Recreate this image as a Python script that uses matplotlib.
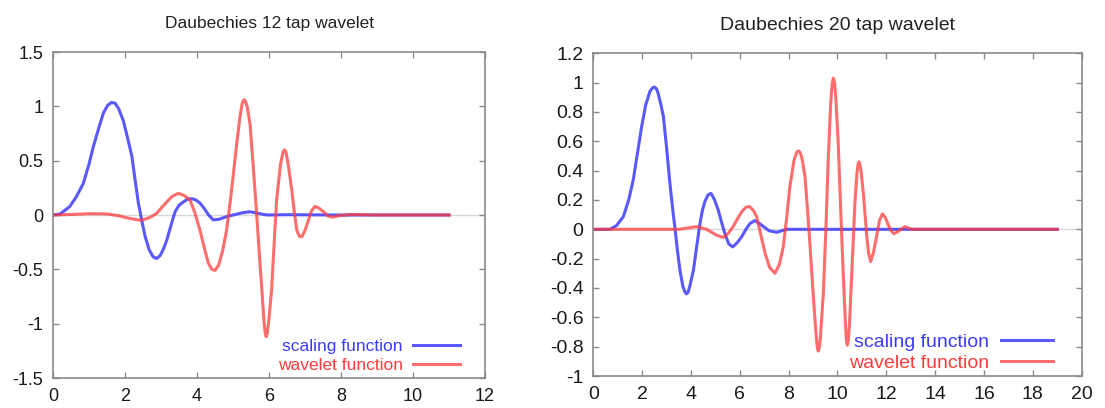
import matplotlib
matplotlib.use("Agg")
import matplotlib.pyplot as plt

plt.rcParams['font.family'] = ['Liberation Sans', 'DejaVu Sans']
plt.rcParams['axes.unicode_minus'] = False

# Daubechies 12 tap
x12_scal = [0, 0.2, 0.47, 0.65, 0.84, 1.0, 1.12, 1.27, 1.40, 1.52, 1.62, 1.72, 1.82, 1.95, 2.07,
            2.19, 2.28, 2.37, 2.47, 2.56, 2.67, 2.78, 2.88, 2.98, 3.07, 3.16, 3.28, 3.39, 3.5,
            3.62, 3.73, 3.85, 3.96, 4.08, 4.2, 4.32, 4.45, 4.6, 4.82, 5.0, 5.25, 5.47, 5.7,
            5.94, 6.5, 8, 11]
y12_scal = [0, 0.01, 0.08, 0.17, 0.29, 0.47, 0.63, 0.80, 0.94, 1.01, 1.035, 1.03, 0.98, 0.87, 0.71,
            0.54, 0.32, 0.11, -0.06, -0.20, -0.32, -0.385, -0.40, -0.37, -0.31, -0.23, -0.09, 0.03, 0.09,
            0.12, 0.145, 0.15, 0.14, 0.11, 0.06, 0.0, -0.045, -0.04, -0.015, 0.0, 0.02, 0.03, 0.015,
            0.0, 0.003, 0, 0]
x12_wav = [0, 0.5, 1.0, 1.49, 1.8, 2.1, 2.46, 2.7, 2.88, 3.02, 3.16, 3.3, 3.48, 3.64, 3.8, 3.94,
           4.08, 4.2, 4.31, 4.41, 4.5, 4.6, 4.71, 4.82, 4.92, 5.01, 5.1, 5.19, 5.25, 5.28, 5.31, 5.34,
           5.39, 5.47, 5.56, 5.66, 5.73, 5.8, 5.86, 5.89, 5.92, 5.95, 5.99, 6.07, 6.14, 6.21, 6.32,
           6.39, 6.43, 6.47, 6.53, 6.63, 6.70, 6.77, 6.84, 6.91, 7.0, 7.09, 7.18, 7.28, 7.4, 7.51,
           7.64, 7.77, 7.95, 8.3, 9, 11]
y12_wav = [0, 0.005, 0.012, 0.01, -0.005, -0.03, -0.05, -0.02, 0.015, 0.07, 0.12, 0.17, 0.20, 0.18, 0.14, 0.02,
           -0.14, -0.30, -0.44, -0.50, -0.51, -0.46, -0.33, -0.14, 0.12, 0.38, 0.65, 0.90, 1.02, 1.05, 1.06, 1.05,
           1.0, 0.84, 0.45, -0.015, -0.36, -0.69, -0.98, -1.08, -1.12, -1.09, -0.98, -0.69, -0.27, 0.14, 0.47,
           0.58, 0.60, 0.58, 0.47, 0.23, 0.03, -0.14, -0.195, -0.20, -0.14, -0.05, 0.04, 0.08, 0.06, 0.03,
           -0.01, -0.02, -0.005, 0.005, 0, 0]

# Daubechies 20 tap
x20_scal = [0, 0.68, 0.95, 1.23, 1.45, 1.64, 1.82, 1.98, 2.15, 2.32, 2.43, 2.50, 2.58, 2.65, 2.77, 2.87, 3.0,
            3.14, 3.25, 3.35, 3.45, 3.55, 3.67, 3.76, 3.82, 3.88, 3.95, 4.10, 4.24, 4.37, 4.47, 4.57, 4.70,
            4.82, 4.97, 5.12, 5.25, 5.39, 5.55, 5.71, 5.9, 6.08, 6.25, 6.42, 6.62, 6.80, 6.96,
            7.2, 7.51, 7.92, 8.5, 19]
y20_scal = [0, 0, 0.025, 0.086, 0.2, 0.34, 0.53, 0.70, 0.85, 0.94, 0.965, 0.97, 0.96, 0.93, 0.85, 0.77, 0.56,
            0.31, 0.14, 0.0, -0.15, -0.28, -0.39, -0.43, -0.44, -0.43, -0.39, -0.28, -0.11, 0.04, 0.13, 0.19, 0.235,
            0.245, 0.20, 0.13, 0.05, -0.03, -0.10, -0.12, -0.09, -0.05, 0.0, 0.04, 0.06, 0.04, 0.02,
            -0.01, -0.02, 0.0, 0.0, 0]
x20_wav = [0, 2, 3.5, 3.9, 4.23, 4.64, 5.05, 5.32, 5.52, 5.73, 5.9, 6.08, 6.25, 6.40, 6.55, 6.69,
           6.85, 7.03, 7.22, 7.44, 7.62, 7.78, 7.92, 8.05, 8.22, 8.33, 8.40, 8.47, 8.55, 8.67, 8.77, 8.87,
           8.98, 9.08, 9.15, 9.18, 9.21, 9.25, 9.30, 9.42, 9.52, 9.62, 9.72, 9.78, 9.83, 9.88, 9.93,
           10.03, 10.13, 10.24, 10.32, 10.36, 10.40, 10.44, 10.49, 10.58, 10.65, 10.72, 10.80, 10.85,
           10.88, 10.92, 10.97, 11.06, 11.19, 11.27, 11.36, 11.47, 11.60, 11.72, 11.84, 11.96, 12.08,
           12.2, 12.31, 12.43, 12.56, 12.76, 13.04, 14, 19]
y20_wav = [0, 0.0, 0.0, 0.01, 0.018, 0.0, -0.04, -0.055, -0.03, 0.02, 0.07, 0.12, 0.15, 0.155, 0.13, 0.086,
           -0.03, -0.16, -0.26, -0.30, -0.24, -0.12, 0.08, 0.29, 0.47, 0.525, 0.535, 0.525, 0.48, 0.36, 0.14, -0.095,
           -0.38, -0.62, -0.77, -0.81, -0.83, -0.81, -0.74, -0.44, -0.02, 0.47, 0.85, 0.99, 1.03, 1.0, 0.90,
           0.59, 0.14, -0.32, -0.62, -0.75, -0.79, -0.76, -0.65, -0.32, -0.06, 0.20, 0.39, 0.45,
           0.46, 0.44, 0.39, 0.245, -0.03, -0.16, -0.22, -0.16, -0.05, 0.06, 0.105, 0.08, 0.03,
           -0.01, -0.03, -0.02, -0.005, 0.018, 0.0, 0, 0]

blue = '#3c3cff'
red = '#ff3c3c'
grey = '#8a8a8a'

fig = plt.figure(figsize=(11.05, 4.08), dpi=100)
ax1 = fig.add_axes([0.048, 0.0735, 0.391, 0.799])
ax2 = fig.add_axes([0.5369, 0.0784, 0.442, 0.7910])

panels = [
    (ax1, x12_scal, y12_scal, x12_wav, y12_wav, "Daubechies 12 tap wavelet",
     (0, 12), range(0, 13, 2), (-1.5, 1.5), [-1.5, -1, -0.5, 0, 0.5, 1, 1.5], 12.5, 12.5, 13, 0.005, 0.2),
    (ax2, x20_scal, y20_scal, x20_wav, y20_wav, "Daubechies 20 tap wavelet",
     (0, 20), range(0, 21, 2), (-1, 1.2), [round(-1 + 0.2 * i, 1) for i in range(12)], 14, 14, 14, 0.0, 0.2),
]

for ax, xs, ys, xw, yw, title, xl, xt, yl, yt, fs_title, fs_leg, fs_tick, leg_y, spacing in panels:
    ax.axhline(0, color='#d8d8d8', lw=1, zorder=0)
    ax.plot(xs, ys, color=blue, lw=2.2, alpha=0.85, label='scaling function')
    ax.plot(xw, yw, color=red, lw=2.2, alpha=0.75, label='wavelet function')
    ax.set_xlim(*xl)
    ax.set_ylim(*yl)
    ax.set_xticks(list(xt))
    ax.set_yticks(yt)
    ax.set_xticklabels(['%g' % v for v in xt])
    ax.set_yticklabels(['%g' % v for v in yt])
    ax.tick_params(direction='in', length=4, width=1, color=grey, top=True, right=True,
                   labelsize=fs_tick, labelcolor='#1a1a1a', pad=7)
    for s in ax.spines.values():
        s.set_color(grey)
        s.set_linewidth(1.2)
    ax.set_title(title, fontsize=fs_title, color='#222222', pad=17)
    leg = ax.legend(loc='lower right', bbox_to_anchor=(0.95, leg_y), frameon=False,
                    markerfirst=False, labelcolor='linecolor', fontsize=fs_leg,
                    handlelength=2.7, handletextpad=0.6, labelspacing=spacing,
                    borderpad=0, borderaxespad=0.2)

fig.savefig('out.png', dpi=100)
